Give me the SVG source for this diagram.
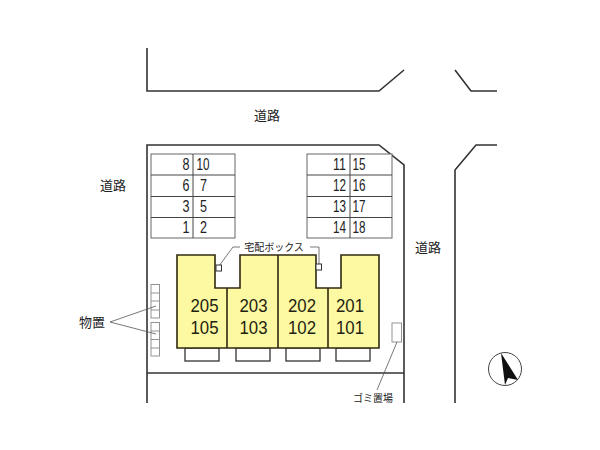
<svg xmlns="http://www.w3.org/2000/svg" width="600" height="450" viewBox="0 0 600 450">
<style>
.road{fill:none;stroke:#333;stroke-width:1.6}
.thin{fill:none;stroke:#555;stroke-width:.8}
.park{fill:#fff;stroke:#666;stroke-width:1}
.pdiv{stroke:#444;stroke-width:1;fill:none}
.bld{fill:#fdf8a2;stroke:#2f2a10;stroke-width:1.6}
.bal{fill:#fff;stroke:#333;stroke-width:1.3}
.store{fill:#fff;stroke:#888;stroke-width:.9}
.jp{font-family:"Noto Sans CJK JP","Liberation Sans",sans-serif;fill:#222;font-size:13px;text-anchor:middle}
.n{font-family:"Liberation Sans",Arial,sans-serif;fill:#222;font-size:16px}
.u{font-family:"Liberation Sans",Arial,sans-serif;fill:#221f10;font-size:19px;text-anchor:middle}
</style>
<rect width="600" height="450" fill="#fff"/>
<g id="site">
<path class="road" d="M147 403V145H379L404 165V403"/>
<path class="road" d="M147 373H404" stroke-width="1.2"/>
<path class="road" d="M147 48V91H379L404 70"/>
<path class="road" d="M455 70L471 91H497"/>
<path class="road" d="M497 145H476L455 170V403"/>
</g>
<g id="parking-left">
<rect class="park" x="151" y="154" width="84" height="84"/>
<path class="pdiv" d="M151 175H235M151 196.500H235M151 217.500H235M193 154V238"/>
<g class="n">
<text x="182.500" y="170" textLength="7" lengthAdjust="spacingAndGlyphs">8</text><text x="196.500" y="170" textLength="13" lengthAdjust="spacingAndGlyphs">10</text>
<text x="182.500" y="191" textLength="7" lengthAdjust="spacingAndGlyphs">6</text><text x="200" y="191" textLength="7" lengthAdjust="spacingAndGlyphs">7</text>
<text x="182.500" y="212" textLength="7" lengthAdjust="spacingAndGlyphs">3</text><text x="200" y="212" textLength="7" lengthAdjust="spacingAndGlyphs">5</text>
<text x="182.500" y="233" textLength="7" lengthAdjust="spacingAndGlyphs">1</text><text x="200" y="233" textLength="7" lengthAdjust="spacingAndGlyphs">2</text>
</g>
</g>
<g id="parking-right">
<rect class="park" x="307" y="154" width="85" height="84"/>
<path class="pdiv" d="M307 175H392M307 196.500H392M307 217.500H392M350 154V238"/>
<g class="n">
<text x="333" y="170" textLength="13" lengthAdjust="spacingAndGlyphs">11</text><text x="352.500" y="170" textLength="13" lengthAdjust="spacingAndGlyphs">15</text>
<text x="333" y="191" textLength="13" lengthAdjust="spacingAndGlyphs">12</text><text x="352.500" y="191" textLength="13" lengthAdjust="spacingAndGlyphs">16</text>
<text x="333" y="212" textLength="13" lengthAdjust="spacingAndGlyphs">13</text><text x="352.500" y="212" textLength="13" lengthAdjust="spacingAndGlyphs">17</text>
<text x="333" y="233" textLength="13" lengthAdjust="spacingAndGlyphs">14</text><text x="352.500" y="233" textLength="13" lengthAdjust="spacingAndGlyphs">18</text>
</g>
</g>
<g id="balconies">
<rect class="bal" x="185" y="348" width="34" height="13"/>
<rect class="bal" x="236" y="348" width="34" height="13"/>
<rect class="bal" x="286" y="348" width="34" height="13"/>
<rect class="bal" x="336" y="348" width="34" height="13"/>
</g>
<g id="building">
<path class="bld" d="M177 255H215V288H240V255H316V288H341V255H379V348H177Z"/>
<path class="bld" fill="none" d="M227 288V348M278 255V348M328 288V348"/>
</g>
<g id="units">
<text class="u" x="204.500" y="312" textLength="28" lengthAdjust="spacingAndGlyphs">205</text><text class="u" x="204.500" y="334" textLength="28" lengthAdjust="spacingAndGlyphs">105</text>
<text class="u" x="253.500" y="312" textLength="28" lengthAdjust="spacingAndGlyphs">203</text><text class="u" x="253.500" y="334" textLength="28" lengthAdjust="spacingAndGlyphs">103</text>
<text class="u" x="302" y="312" textLength="28" lengthAdjust="spacingAndGlyphs">202</text><text class="u" x="302" y="334" textLength="28" lengthAdjust="spacingAndGlyphs">102</text>
<text class="u" x="350" y="312" textLength="28" lengthAdjust="spacingAndGlyphs">201</text><text class="u" x="350" y="334" textLength="28" lengthAdjust="spacingAndGlyphs">101</text>
</g>
<g id="storage">
<rect class="store" x="151" y="284.500" width="8.500" height="33.500"/>
<path class="store" d="M151 293H159.500M151 301H159.500M151 310H159.500"/>
<rect class="store" x="151" y="322.500" width="8.500" height="33.500"/>
<path class="store" d="M151 331H159.500M151 339.500H159.500M151 348H159.500"/>
</g>
<g id="trash"><rect class="store" x="392" y="323" width="9.500" height="19" stroke="#555"/></g>
<g id="connectors">
<path class="thin" d="M110 322L156 306M110 322L156 334"/>
<path class="thin" d="M219 266L233 247H240"/>
<path class="thin" d="M310 247H319V264"/>
<path class="thin" d="M397 342L377 390"/>
</g>
<g id="boxes">
<rect x="216" y="265" width="5.500" height="6" fill="#fff" stroke="#333" stroke-width="1"/>
<rect x="316" y="264" width="5.500" height="6" fill="#fff" stroke="#333" stroke-width="1"/>
</g>
<g id="labels">
<text class="jp" x="267" y="120">道路</text>
<text class="jp" x="113" y="190">道路</text>
<text class="jp" x="428" y="252">道路</text>
<text class="jp" x="92" y="327">物置</text>
<text class="jp" x="274" y="250.500" style="font-size:10px">宅配ボックス</text>
<text class="jp" x="373" y="402" style="font-size:10px">ゴミ置場</text>
</g>
<g id="compass">
<circle cx="505" cy="369" r="16.500" fill="#fff" stroke="#444" stroke-width="1"/>
<path d="M501 353L518 380L508 378L505 385Z" fill="#111"/>
</g>
</svg>
